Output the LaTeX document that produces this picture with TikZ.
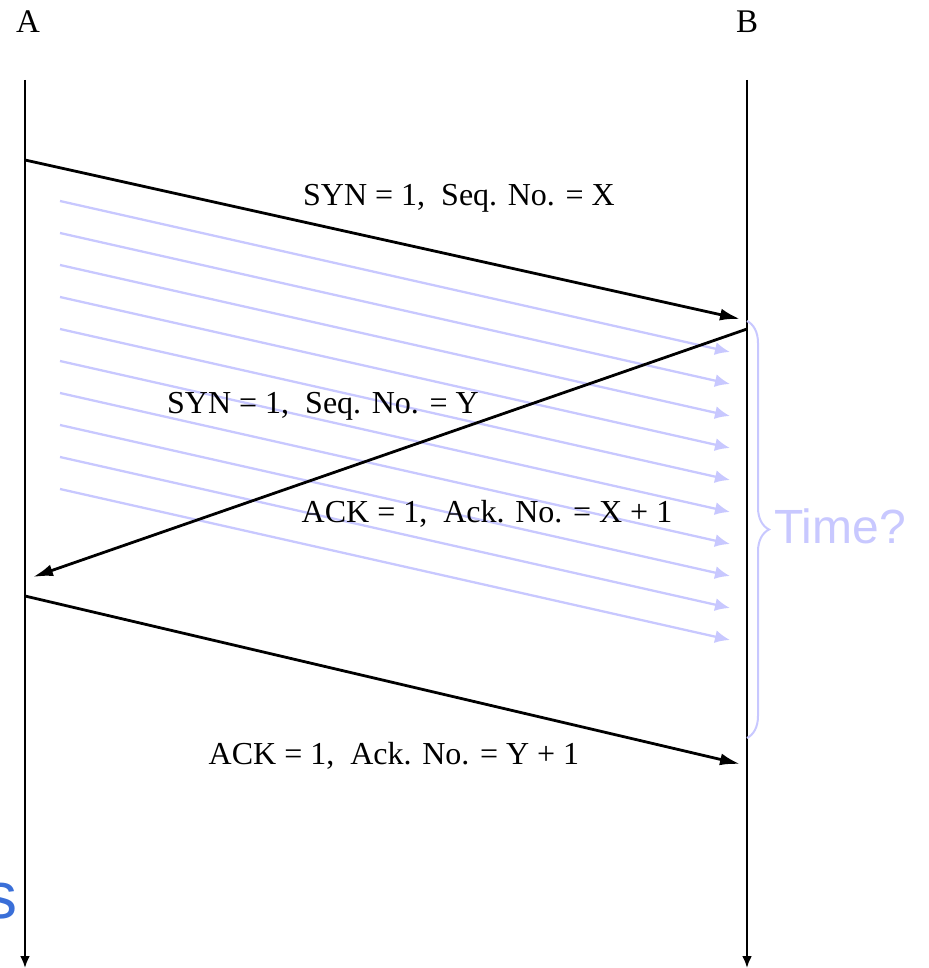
\documentclass[tikz,border=0pt]{standalone}
\usepackage{fontspec}
\setmainfont{Liberation Serif}
\newfontfamily\sansf{Liberation Sans}
\usetikzlibrary{arrows.meta,decorations.pathreplacing}
\definecolor{lav}{RGB}{200,200,255}
\definecolor{sblue}{RGB}{58,111,216}
\begin{document}
\begin{tikzpicture}[x=1pt,y=-1pt,
  life/.style={line width=2.4pt,-{Latex[length=12pt,width=10pt]}},
  msg/.style={line width=2.8pt,-{Latex[length=20pt,width=12pt]}},
  ghost/.style={draw=lav,line width=2.3pt,-{Latex[length=15pt,width=13pt]}},
  lbl/.style={font=\fontsize{32}{36}\selectfont,anchor=base,inner sep=0pt},
  hdr/.style={font=\fontsize{33}{36}\selectfont,anchor=base,inner sep=0pt}]
\useasboundingbox (0,0) rectangle (928,968);
% header labels
\node[hdr] (lA) at (28,33) {A};
\node[hdr] (lB) at (747,33) {B};
% lifelines
\coordinate (aTop) at (25,80);
\coordinate (aBot) at (25,968);
\coordinate (bTop) at (747,80);
\coordinate (bBot) at (747,968);
\draw[life] (aTop) -- (aBot);
\draw[life] (bTop) -- (bBot);
% ghost arrows
\foreach \i in {0,...,9}{
  \coordinate (g\i s) at (60,{201+32*\i});
  \coordinate (g\i e) at (730,{352+32*\i});
  \draw[ghost] (g\i s) -- (g\i e);
}
% messages
\coordinate (m1s) at (25,160);
\coordinate (m1e) at (740,319);
\coordinate (m2s) at (747,329);
\coordinate (m2e) at (33,577);
\coordinate (m3s) at (25,596);
\coordinate (m3e) at (740,764);
\draw[msg] (m1s) -- (m1e);
\draw[msg] (m2s) -- (m2e);
\draw[msg] (m3s) -- (m3e);
\node[lbl] (t1) at (459,206) {SYN = 1,\ \ Seq. No. = X};
\node[lbl] (t2) at (323,413) {SYN = 1,\ \ Seq. No. = Y};
\node[lbl] (t3) at (487,522) {ACK = 1,\ \ Ack. No. = X + 1};
\node[lbl] (t4) at (394,764) {ACK = 1,\ \ Ack. No. = Y + 1};
% brace
\coordinate (brT) at (747,321);
\coordinate (brB) at (747,738);
\draw[lav,line width=2pt,decorate,decoration={brace,amplitude=22pt}] (brT) -- (brB);
\node[font=\sansf\fontsize{48}{52}\selectfont,text=lav,anchor=base west,inner sep=0pt] (time) at (774,543) {Time?};
% partial blue word at left edge
\node[font=\sansf\fontsize{66}{70}\selectfont,text=sblue,anchor=base east,inner sep=0pt] (sw) at (18,918) {s};
\end{tikzpicture}
\end{document}
